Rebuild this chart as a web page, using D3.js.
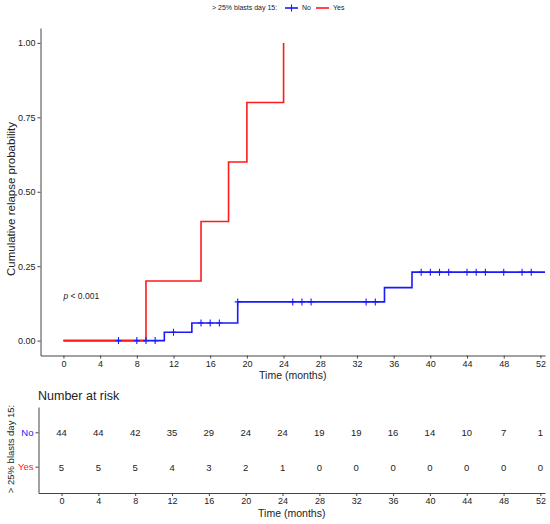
<!DOCTYPE html>
<html>
<head>
<meta charset="utf-8">
<script src="https://cdn.jsdelivr.net/npm/d3@7"></script>
<style>
  body { margin: 0; background: #fff; }
  svg text { font-family: "Liberation Sans", Arial, sans-serif; }
</style>
</head>
<body>
<div id="chart"></div>
<script>
// time ticks (months) shared by curve and risk table
const timeTicks = [0, 4, 8, 12, 16, 20, 24, 28, 32, 36, 40, 44, 48, 52];
const probTicks = [0, 0.25, 0.5, 0.75, 1];

// step curves: time of each event and cumulative relapse probability after it
const noTimes = [0, 11, 14, 19, 35, 38];
const noProb = [0, 0.028, 0.059, 0.13, 0.178, 0.23];
const noEnd = 52.5;
const noCensor = [6, 8, 9, 10, 12, 15, 16, 17, 19, 25, 26, 27, 33, 34, 39, 40, 41, 42, 44, 45, 46, 48, 50, 51];

const yesTimes = [0, 9, 15, 18, 20, 24];
const yesProb = [0, 0.2, 0.4, 0.6, 0.8, 1.0];
const yesEnd = 24;

// number at risk
const groups = ["No", "Yes"];
const riskNo = [44, 44, 42, 35, 29, 24, 24, 19, 19, 16, 14, 10, 7, 1];
const riskYes = [5, 5, 5, 4, 3, 2, 1, 0, 0, 0, 0, 0, 0, 0];

const colors = { No: "#1a1aff", Yes: "#ff1a1a" };
const axisCol = "#444";
const textCol = "#222";

const svg = d3.select("#chart").append("svg")
    .attr("width", 550)
    .attr("height", 524);

function styleAxis(g, size) {
    g.attr("font-family", null);
    g.select(".domain").attr("stroke", axisCol);
    g.selectAll(".tick line").attr("stroke", axisCol);
    g.selectAll("text").attr("fill", textCol).style("font-size", size);
}

// ---------- main curve ----------
const x = d3.scaleLinear().domain([-2.5, 52.5]).range([40.5, 545]);
const y = d3.scaleLinear().domain([-0.05, 1.05]).range([355.5, 28]);

svg.append("g")
    .attr("transform", "translate(0," + y(-0.05) + ")")
    .call(d3.axisBottom(x).tickValues(timeTicks).tickSize(3).tickPadding(2).tickSizeOuter(0))
    .call(g => styleAxis(g, "9px"));

svg.append("g")
    .attr("transform", "translate(" + x(-2.5) + ",0)")
    .call(d3.axisLeft(y).tickValues(probTicks).tickFormat(d3.format(".2f")).tickSize(3).tickPadding(2).tickSizeOuter(0))
    .call(g => styleAxis(g, "9px"));

svg.append("text")
    .attr("x", (x.range()[0] + x.range()[1]) / 2)
    .attr("y", 379)
    .attr("text-anchor", "middle")
    .attr("fill", textCol)
    .style("font-size", "10.5px")
    .text("Time (months)");

svg.append("text")
    .attr("transform", "translate(11,199) rotate(-90)")
    .attr("dy", "0.35em")
    .attr("text-anchor", "middle")
    .attr("fill", textCol)
    .style("font-size", "11.5px")
    .text("Cumulative relapse probability");

const stepLine = d3.line()
    .x(d => x(d[0]))
    .y(d => y(d[1]))
    .curve(d3.curveStepAfter);

function stepPoints(times, probs, end) {
    let pts = times.map((t, i) => [t, probs[i]]);
    pts.push([end, probs[probs.length - 1]]);
    return pts;
}

svg.append("path")
    .attr("d", stepLine(stepPoints(noTimes, noProb, noEnd)))
    .attr("fill", "none")
    .attr("stroke", colors.No)
    .attr("stroke-width", 1.6);

svg.append("path")
    .attr("d", stepLine(stepPoints(yesTimes, yesProb, yesEnd)))
    .attr("fill", "none")
    .attr("stroke", colors.Yes)
    .attr("stroke-width", 1.6);

// censor marks
function probAt(t) {
    let p = 0;
    for (let i = 0; i < noTimes.length; i++) {
        if (noTimes[i] <= t) p = noProb[i];
    }
    return p;
}

svg.selectAll(".censor")
    .data(noCensor)
    .enter()
    .append("path")
    .attr("class", "censor")
    .attr("d", d => {
        const cx = x(d), cy = y(probAt(d));
        return "M" + cx + "," + (cy - 3.5) + "V" + (cy + 3.5) + "M" + (cx - 3) + "," + cy + "H" + (cx + 3);
    })
    .attr("stroke", colors.No)
    .attr("stroke-width", 1.1);

svg.append("text")
    .attr("x", x(0))
    .attr("y", y(0.15))
    .attr("dy", "0.35em")
    .attr("fill", textCol)
    .style("font-size", "8.5px")
    .html('<tspan font-style="italic">p</tspan> &lt; 0.001');

// legend
const legend = svg.append("g").attr("transform", "translate(0,8)");
legend.append("text")
    .attr("x", 212)
    .attr("dy", "0.35em")
    .attr("fill", textCol)
    .style("font-size", "7px")
    .text("> 25% blasts day 15:");

const legX = { No: 285, Yes: 316 };
groups.forEach(g => {
    legend.append("line")
        .attr("x1", legX[g]).attr("x2", legX[g] + 13)
        .attr("stroke", colors[g]).attr("stroke-width", 1.6);
    if (g === "No") {
        legend.append("line")
            .attr("x1", legX[g] + 6.5).attr("x2", legX[g] + 6.5)
            .attr("y1", -3.5).attr("y2", 3.5)
            .attr("stroke", colors[g]).attr("stroke-width", 1.1);
    }
    legend.append("text")
        .attr("x", legX[g] + 17)
        .attr("dy", "0.35em")
        .attr("fill", textCol)
        .style("font-size", "7px")
        .text(g);
});

// ---------- risk table ----------
svg.append("text")
    .attr("x", 38)
    .attr("y", 400)
    .attr("fill", textCol)
    .style("font-size", "12.5px")
    .text("Number at risk");

const xr = d3.scaleLinear().domain([-2.5, 52.5]).range([38.5, 545]);
const yr = d3.scaleBand().domain(groups).range([407, 493]).paddingOuter(0.25);

svg.append("g")
    .attr("transform", "translate(0,493)")
    .call(d3.axisBottom(xr).tickValues(timeTicks).tickSize(3).tickPadding(2).tickSizeOuter(0))
    .call(g => styleAxis(g, "9px"));

svg.append("g")
    .attr("transform", "translate(" + xr(-2.5) + ",0)")
    .call(d3.axisLeft(yr).tickSize(3).tickPadding(2).tickSizeOuter(0))
    .call(g => styleAxis(g, "9.5px"))
    .call(g => g.selectAll("text").attr("fill", d => colors[d]));

svg.append("text")
    .attr("x", (xr.range()[0] + xr.range()[1]) / 2)
    .attr("y", 517)
    .attr("text-anchor", "middle")
    .attr("fill", textCol)
    .style("font-size", "10.5px")
    .text("Time (months)");

svg.append("text")
    .attr("transform", "translate(11,449) rotate(-90)")
    .attr("dy", "0.35em")
    .attr("text-anchor", "middle")
    .attr("fill", textCol)
    .style("font-size", "9.5px")
    .text("> 25% blasts day 15:");

const riskRows = { No: riskNo, Yes: riskYes };
groups.forEach(g => {
    svg.selectAll(".risk-" + g)
        .data(riskRows[g])
        .enter()
        .append("text")
        .attr("x", (d, i) => xr(timeTicks[i]))
        .attr("y", yr(g) + yr.bandwidth() / 2)
        .attr("dy", "0.35em")
        .attr("text-anchor", "middle")
        .attr("fill", textCol)
        .style("font-size", "9.5px")
        .text(d => d);
});
</script>
</body>
</html>
